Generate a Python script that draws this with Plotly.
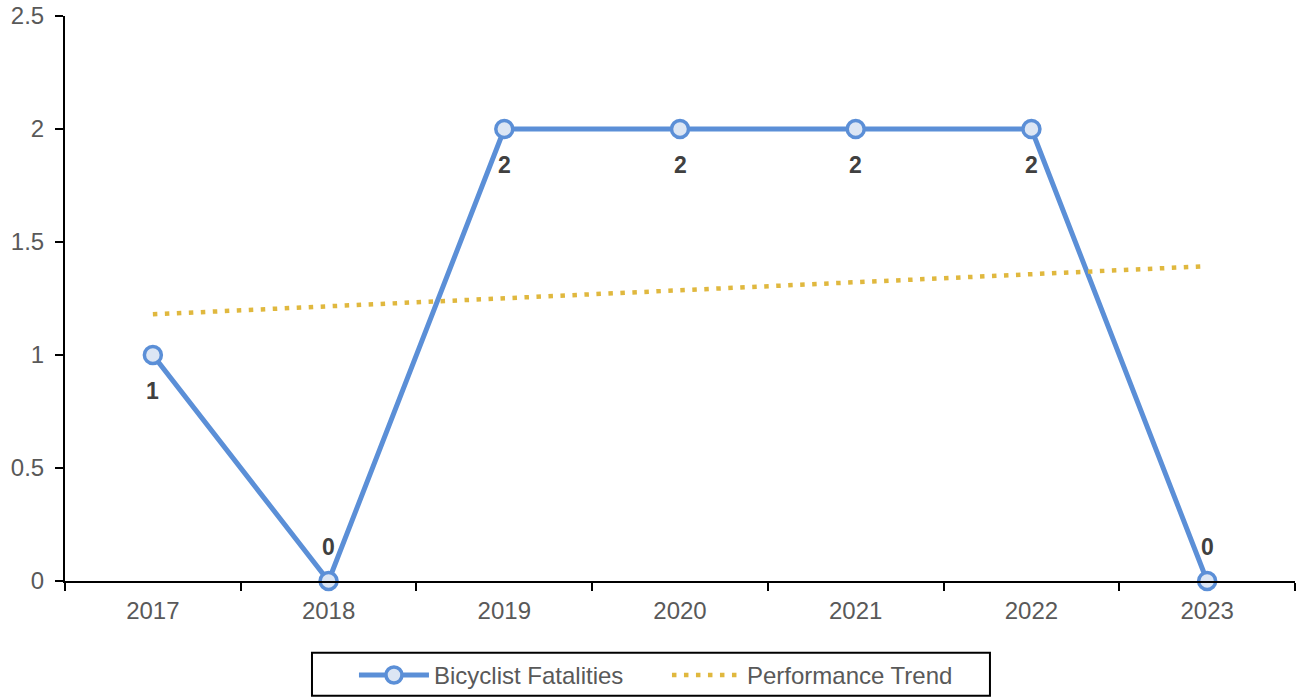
import plotly.graph_objects as go

years = ["2017", "2018", "2019", "2020", "2021", "2022", "2023"]
fatalities = [1, 0, 2, 2, 2, 2, 0]
trend = [1.18, 1.215, 1.25, 1.286, 1.32, 1.357, 1.393]
label_below = [True, False, True, True, True, True, False]

BLUE = "#5B8FD7"
FONT = "Liberation Sans, Arial"

fig = go.Figure()
fig.add_trace(go.Scatter(
    x=years, y=fatalities, name="Bicyclist Fatalities", mode="lines+markers",
    line=dict(color=BLUE, width=5),
    marker=dict(size=17, color="#DCE6F4", line=dict(color=BLUE, width=3.5)),
    cliponaxis=False,
))
fig.add_trace(go.Scatter(
    x=years, y=trend, name="Performance Trend", mode="lines",
    line=dict(color="#E0B83E", width=4.5, dash="4.5px,7.5px"),
))

annotations = []
for i, (v, below) in enumerate(zip(fatalities, label_below)):
    annotations.append(dict(
        xref="x", yref="y", x=i, y=v, text="<b>" + str(v) + "</b>", showarrow=False,
        yshift=-36 if below else 34,
        font=dict(family=FONT, size=23, color="#404040"),
    ))

shapes = [dict(type="rect", xref="paper", yref="paper",
               x0=0.2008, x1=0.752, y0=-0.2032, y1=-0.1272,
               line=dict(color="black", width=2), fillcolor="rgba(0,0,0,0)")]

fig.update_layout(
    width=1296, height=698,
    margin=dict(l=65, r=1, t=16, b=116),
    paper_bgcolor="white", plot_bgcolor="white",
    font=dict(family=FONT, size=24, color="#595959"),
    showlegend=True,
    annotations=annotations,
    shapes=shapes,
    legend=dict(
        orientation="h", x=0.4894, xanchor="center", y=-0.165, yanchor="middle",
        borderwidth=0, traceorder="normal", bgcolor="rgba(0,0,0,0)",
        font=dict(family=FONT, size=24, color="#595959"),
        itemwidth=70, entrywidth=228, entrywidthmode="pixels",
    ),
    xaxis=dict(
        type="category", showgrid=False, showline=True, linecolor="black", linewidth=2,
        ticks="outside", tickson="boundaries", ticklen=8, tickwidth=2, tickcolor="black",
        range=[-0.5, 6.5], zeroline=False, automargin=False, ticklabelstandoff=7,
        tickfont=dict(family=FONT, size=24, color="#595959"),
    ),
    yaxis=dict(
        range=[0, 2.5], dtick=0.5, showgrid=False, showline=True, linecolor="black",
        linewidth=2, ticks="outside", ticklen=8, tickwidth=2, tickcolor="black",
        zeroline=False, automargin=False, ticklabelstandoff=6,
        tickfont=dict(family=FONT, size=24, color="#595959"),
    ),
)

fig.write_html("out.html", config={"displayModeBar": False},
               post_script="document.body.style.margin='0';")
